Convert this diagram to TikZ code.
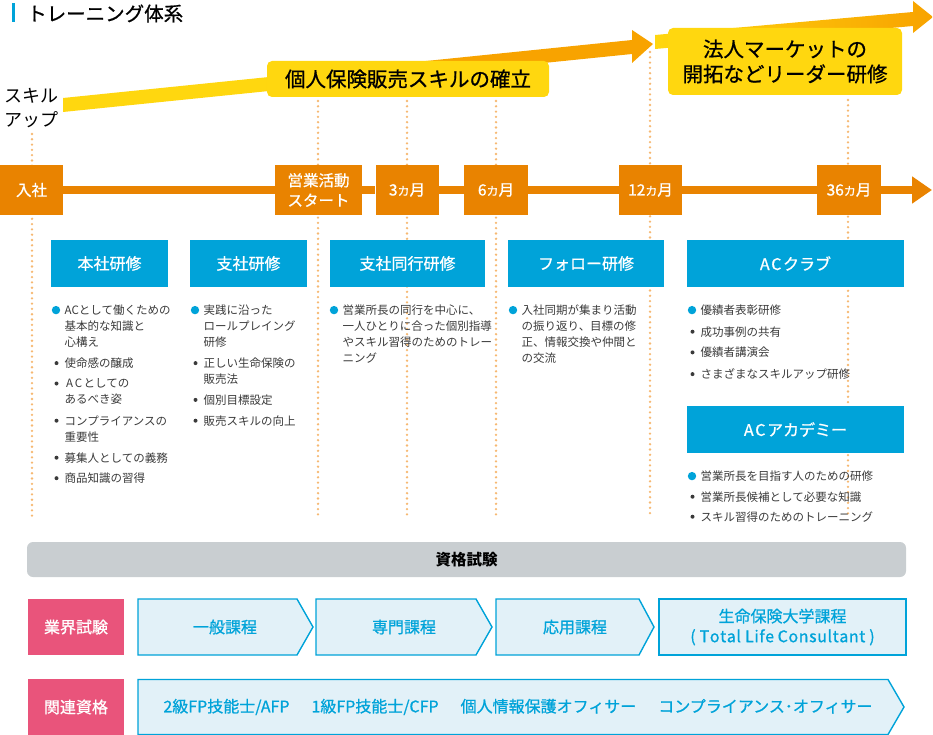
\documentclass[tikz,border=0pt]{standalone}
\usepackage{fontspec}
\setmainfont{Noto Sans CJK JP}
\newfontfamily\jpmed{Noto Sans CJK JP}[FakeBold=0.8]
\usetikzlibrary{arrows.meta,positioning,calc}
\definecolor{cORG}{HTML}{E98300}
\definecolor{cYEL}{HTML}{FFD70F}
\definecolor{cAMB}{HTML}{F8A300}
\definecolor{cBLU}{HTML}{00A3D9}
\definecolor{cPNK}{HTML}{E9547B}
\definecolor{cGRY}{HTML}{C9CED1}
\definecolor{cDOT}{HTML}{F6B872}
\definecolor{cTXT}{HTML}{3A3A3A}
\definecolor{cPAL}{HTML}{E2F1F8}
\newcommand{\fs}[2]{\fontsize{#1}{#2}\selectfont}
\newcommand{\AC}{A\kern1.6pt C\kern1.6pt}
\pgfdeclarehorizontalshading{bandA}{100bp}{color(0bp)=(cYEL); color(42bp)=(cYEL); color(58bp)=(cAMB); color(100bp)=(cAMB)}

\begin{document}
\begin{tikzpicture}[x=1pt, y=-1pt, >=Stealth,
  mbox/.style={fill=cORG, text=white, inner sep=0pt, minimum height=50pt, font=\jpmed\fs{15.5}{20}, align=center},
  cbox/.style={fill=cBLU, text=white, inner sep=0pt, minimum height=47pt, font=\jpmed\fs{16}{20}},
  lvl/.style={fill=cYEL, rounded corners=5pt, inner sep=0pt, font=\jpmed\fs{20.5}{25}, align=center},
  item/.style={anchor=base west, inner sep=0pt, text width=190pt, align=left, font=\fs{11.5}{16}, text=cTXT},
  dotline/.style={cDOT, line width=2.6pt, line cap=round, dash pattern=on 0pt off 5.3pt},
  chev/.style={draw=cBLU, fill=cPAL, line width=1.4pt},
  extxt/.style={text=cBLU, inner sep=0pt, font=\jpmed\fs{16}{20}, align=center},
  pbox/.style={fill=cPNK, text=white, inner sep=0pt, minimum width=96pt, minimum height=56pt, font=\jpmed\fs{16}{20}}]
\useasboundingbox (0,0) rectangle (933,735);

% title
\fill[cBLU] (12.3,3.5) rectangle (15,22.5);
\node[anchor=west, inner sep=0pt, font=\jpmed\fs{19.5}{19.5}] (ttl) at (27,13.5) {トレーニング体系};
\node[anchor=west, align=left, inner sep=0pt, font=\fs{18}{24}] (skl) at (4,108) {スキル\\アップ};

% guide lines
\foreach \xx/\yy in {32/134, 318/101, 407/101, 496/101, 650/52, 848/100}
  \draw[dotline] (\xx,\yy) -- (\xx,518);

% skill-up bands
\shade[shading=bandA] (63,98) -- (632,40) -- (632,30) -- (653,44) -- (632,63) -- (632,54) -- (63,112) -- cycle;
\shade[left color=cYEL, right color=cAMB] (655,35) -- (913,12) -- (913,1) -- (933,17) -- (913,33) -- (913,26) -- (655,49) -- cycle;
\node[lvl, minimum width=282pt, minimum height=36pt] (lvl1) at (408,79) {個人保険販売スキルの確立};
\node[lvl, minimum width=234pt, minimum height=67pt] (lvl2) at (785,61.5) {法人マーケットの\\開拓などリーダー研修};

% time line
\node[mbox, minimum width=63pt] (t0) at (31.5,190) {入社};
\node[mbox, minimum width=87pt] (t1) at (318.5,190) {営業活動\\スタート};
\node[mbox, minimum width=63pt] (t2) at (407,190) {3{\fs{12}{12}カ}月};
\node[mbox, minimum width=64pt] (t3) at (496,190) {6{\fs{12}{12}カ}月};
\node[mbox, minimum width=63pt] (t4) at (650.5,190) {12{\fs{12}{12}カ}月};
\node[mbox, minimum width=64pt] (t5) at (849,190) {36{\fs{12}{12}カ}月};
\coordinate (tEnd) at (932,190);
\draw[cORG, line width=8pt, -{Triangle[length=20pt, width=26pt]}] (t0) -- (t1) -- (t2) -- (t3) -- (t4) -- (t5) -- (tEnd);

% courses
\node[cbox, minimum width=117pt] (c1) at (109.5,263.5) {本社研修};
\node[cbox, minimum width=117pt] (c2) at (248.5,263.5) {支社研修};
\node[cbox, minimum width=155pt] (c3) at (407.5,263.5) {支社同行研修};
\node[cbox, minimum width=156pt] (c4) at (586,263.5) {フォロー研修};
\node[cbox, minimum width=217pt] (c5) at (795.5,263.5) {\AC クラブ};
\node[cbox, minimum width=217pt] (c6) at (795.5,429.5) {\AC アカデミー};

\node[item] (h1) at (64.5,314.4) {ACとして働くための\\基本的な知識と\\心構え};
\node[item] (h2) at (64.5,367.4) {使命感の醸成};
\node[item] (h3) at (64.5,387.8) {\kern1.5pt\AC としての\\あるべき姿};
\node[item] (h4) at (64.5,425) {コンプライアンスの\\重要性};
\node[item] (h5) at (64.5,462) {募集人としての義務};
\node[item] (h6) at (64.5,482.5) {商品知識の習得};

\node[item] (s1) at (203.5,314.4) {実践に沿った\\ロールプレイング\\研修};
\node[item] (s2) at (203.5,367.4) {正しい生命保険の\\販売法};
\node[item] (s3) at (203.5,404.2) {個別目標設定};
\node[item] (s4) at (203.5,425) {販売スキルの向上};

\node[item] (d1) at (342.5,314.4) {営業所長の同行を中心に、\\一人ひとりに合った個別指導\\やスキル習得のためのトレー\\ニング};
\node[item] (f1) at (521.5,314.4) {入社同期が集まり活動\\の振り返り、目標の修\\正、情報交換や仲間と\\の交流};

\node[item] (a1) at (700.5,314.4) {優績者表彰研修};
\node[item] (a2) at (700.5,336) {成功事例の共有};
\node[item] (a3) at (700.5,356.7) {優績者講演会};
\node[item] (a4) at (700.5,378.4) {さまざまなスキルアップ研修};
\node[item] (b1) at (700.5,480.4) {営業所長を目指す人のための研修};
\node[item] (b2) at (700.5,501) {営業所長候補として必要な知識};
\node[item] (b3) at (700.5,521) {スキル習得のためのトレーニング};

\foreach \n in {h1,s1,d1,f1,a1,b1}
  \fill[cBLU] ($(\n.base west)+(-8.5,-4.3)$) circle (4.2pt);
\foreach \n in {h2,h3,h4,h5,h6,s2,s3,s4,a2,a3,a4,b2,b3}
  \fill[cTXT] ($(\n.base west)+(-8,-4.3)$) circle (2pt);

% qualifications
\node[fill=cGRY, rounded corners=6pt, inner sep=0pt, minimum width=879pt, minimum height=35pt, font=\bfseries\fs{15.5}{20}] (qual) at (466.5,559.5) {資格試験};

\node[pbox] (p1) at (76,627) {業界試験};
\node[pbox] (p2) at (76,707) {関連資格};

\draw[chev] (138,599) -- (297,599) -- (313,627) -- (297,655) -- (138,655) -- cycle;
\node[extxt] (e1) at (225,627) {一般課程};
\draw[chev] (316,599) -- (476,599) -- (492,627) -- (476,655) -- (316,655) -- cycle;
\node[extxt] (e2) at (404,627) {専門課程};
\draw[chev] (496,599) -- (639,599) -- (654,627) -- (639,655) -- (496,655) -- cycle;
\node[extxt] (e3) at (575,627) {応用課程};
\draw[chev] (659,599) rectangle (906,655);
\node[extxt] (e4) at (782.5,627) {生命保険大学課程\\(\kern4pt T\kern0.6pt o\kern0.6pt t\kern0.6pt a\kern0.6pt l\kern0.6pt\ L\kern0.6pt i\kern0.6pt f\kern0.6pt e\ C\kern0.6pt o\kern0.6pt n\kern0.6pt s\kern0.6pt u\kern0.6pt l\kern0.6pt t\kern0.6pt a\kern0.6pt n\kern0.6pt t\kern4pt )};

\draw[chev] (138,679.5) -- (888,679.5) -- (904,707) -- (888,734.5) -- (138,734.5) -- cycle;
\node[extxt] (q1) at (518,707) {2級FP技能士/AFP\hspace{22pt}1級FP技能士/CFP\hspace{22pt}個人情報保護オフィサー\hspace{22pt}コンプライアンス･オフィサー};
\end{tikzpicture}
\end{document}
